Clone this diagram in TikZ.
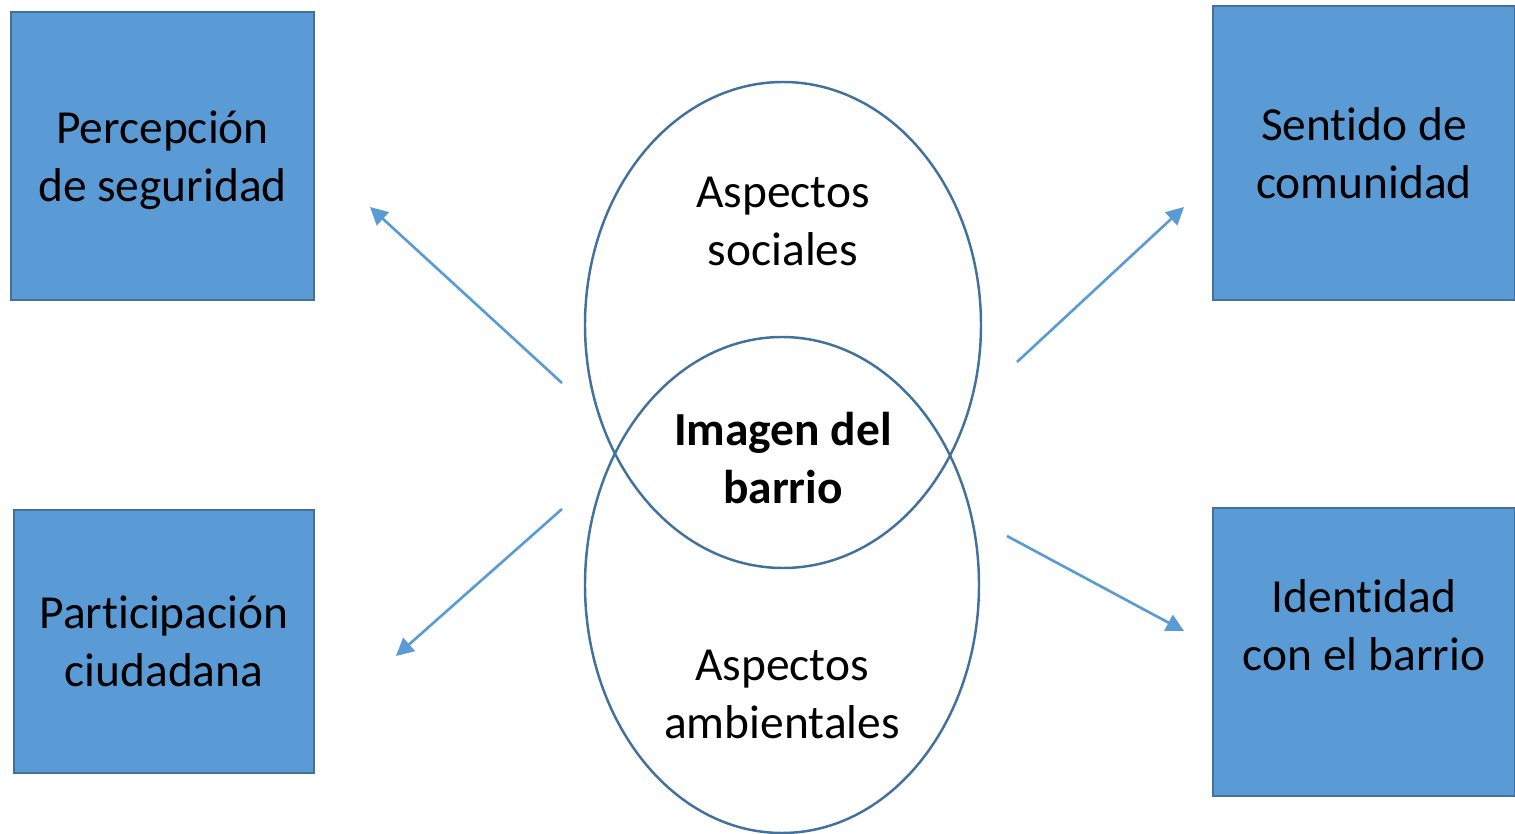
\documentclass[tikz,border=0pt]{standalone}
\usepackage{fontspec}
\setmainfont{Carlito}[Ligatures=NoCommon]
\usetikzlibrary{arrows.meta}
\definecolor{boxblue}{HTML}{5B9BD5}
\definecolor{edgeblue}{HTML}{41719C}
\tikzset{
  box/.style={rectangle, fill=boxblue, draw=edgeblue, line width=0.6pt, align=center, inner sep=0pt},
  txt/.style={align=center, font=\fontsize{13.5}{16.5}\selectfont},
  arr/.style={-{Triangle[length=5pt,width=5pt]}, draw=boxblue, line width=0.75pt}
}
\begin{document}
\begin{tikzpicture}
		\useasboundingbox (0,0) rectangle (15.15,8.34);

		\draw[edgeblue, line width=0.7pt] (7.83,5.09) ellipse (1.98cm and 2.43cm);
		\draw[edgeblue, line width=0.7pt] (7.82,2.49) ellipse (1.97cm and 2.48cm);

		\node[box, minimum width=3.03cm, minimum height=2.88cm] (seg) at (1.625,6.78) {};
		\node[txt] (segt) at (1.625,6.74) {Percepción\\de seguridad};
		\node[box, minimum width=3.02cm, minimum height=2.94cm, txt] (com) at (13.64,6.81) {Sentido de\\comunidad};
		\node[box, minimum width=3.00cm, minimum height=2.63cm, txt] (par) at (1.64,1.925) {Participación\\ciudadana};
		\node[box, minimum width=3.02cm, minimum height=2.88cm] (ide) at (13.64,1.82) {};
		\node[txt] (idet) at (13.64,2.09) {Identidad\\con el barrio};

		\node[txt] (soc) at (7.83,6.125) {Aspectos\\sociales};
		\node[txt, font=\fontsize{13.5}{16.5}\selectfont\bfseries] (img) at (7.83,3.76) {Imagen del\\barrio};
		\node[txt] (amb) at (7.82,1.395) {Aspectos\\ambientales};

		\coordinate (a1) at (5.62,4.51);
		\coordinate (b1) at (3.70,6.27);
		\coordinate (a2) at (10.17,4.72);
		\coordinate (b2) at (11.84,6.27);
		\coordinate (a3) at (5.62,3.25);
		\coordinate (b3) at (3.96,1.78);
		\coordinate (a4) at (10.07,2.98);
		\coordinate (b4) at (11.84,2.03);

		\draw[arr] (a1) -- (b1);
		\draw[arr] (a2) -- (b2);
		\draw[arr] (a3) -- (b3);
		\draw[arr] (a4) -- (b4);

\end{tikzpicture}
\end{document}
